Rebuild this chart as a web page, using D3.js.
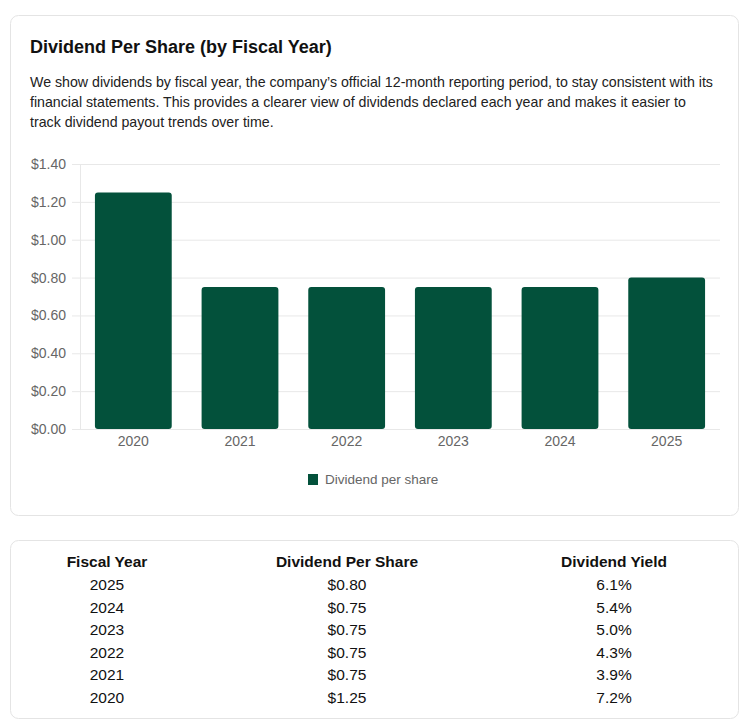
<!DOCTYPE html>
<meta charset="utf-8">
<style>
body { margin: 0; background: #fff; }
svg { display: block; font-family: "Liberation Sans", Arial, sans-serif; }
.card { fill: #fff; stroke: #e4e4e4; stroke-width: 1px; }
.title { font-size: 18px; font-weight: bold; fill: #111; }
.desc { font-size: 14.2px; fill: #222; }
.grid line { stroke: #e8e8e8; }
.grid .domain { display: none; }
.axis text { fill: #666; font-size: 14px; font-family: "Liberation Sans", Arial, sans-serif; }
.axis .domain { stroke: #e8e8e8; }
.axis line { stroke: #e8e8e8; }
.legend text { fill: #666; font-size: 13.5px; }
.th { font-size: 15.5px; font-weight: bold; fill: #111; text-anchor: middle; }
.td { font-size: 15.5px; fill: #111; text-anchor: middle; }
</style>
<svg width="750" height="728"></svg>
<script src="https://d3js.org/d3.v7.min.js"></script>
<script>

var years = ["2020", "2021", "2022", "2023", "2024", "2025"],
    dividends = [1.25, 0.75, 0.75, 0.75, 0.75, 0.80],
    yields = ["7.2%", "3.9%", "4.3%", "5.0%", "5.4%", "6.1%"],
    yTicks = [0, 0.2, 0.4, 0.6, 0.8, 1.0, 1.2, 1.4];

var title = "Dividend Per Share (by Fiscal Year)",
    descLines = [
      "We show dividends by fiscal year, the company\u2019s official 12-month reporting period, to stay consistent with its",
      "financial statements. This provides a clearer view of dividends declared each year and makes it easier to",
      "track dividend payout trends over time."
    ],
    tableHeads = ["Fiscal Year", "Dividend Per Share", "Dividend Yield"];

var svg = d3.select("svg"),
    color = "#03513b";

// cards
svg.append("rect").attr("class", "card")
    .attr("x", 10.5).attr("y", 15.5).attr("width", 728).attr("height", 500).attr("rx", 8);
svg.append("rect").attr("class", "card")
    .attr("x", 10.5).attr("y", 540.5).attr("width", 728).attr("height", 178).attr("rx", 8);

svg.append("text").attr("class", "title")
    .attr("x", 30).attr("y", 53).text(title);

svg.selectAll(".desc").data(descLines).enter().append("text")
    .attr("class", "desc")
    .attr("x", 30).attr("y", function(d, i) { return 87 + i * 20; })
    .text(function(d) { return d; });

// chart
var plotLeft = 80, plotRight = 720, plotTop = 164, plotBottom = 429;

var x = d3.scaleBand().domain(years).range([plotLeft, plotRight]).paddingInner(0.28).paddingOuter(0.14);
var y = d3.scaleLinear().domain([0, 1.4]).range([plotBottom, plotTop]);

svg.append("g").attr("class", "grid")
    .attr("transform", "translate(" + plotLeft + ",0)")
    .call(d3.axisLeft(y).tickValues(yTicks).tickSize(-(plotRight - plotLeft)).tickFormat(""));

svg.append("line")
    .attr("x1", plotLeft + 0.5).attr("x2", plotLeft + 0.5)
    .attr("y1", plotTop).attr("y2", plotBottom)
    .attr("stroke", "#e8e8e8");

svg.append("g").attr("class", "axis")
    .attr("transform", "translate(" + plotLeft + ",0)")
    .call(d3.axisLeft(y).tickValues(yTicks).tickSize(8).tickPadding(6)
      .tickFormat(function(d) { return "$" + d3.format(".2f")(d); }))
    .call(function(g) { g.select(".domain").remove(); });

svg.append("g").attr("class", "axis")
    .attr("transform", "translate(0," + plotBottom + ")")
    .call(d3.axisBottom(x).tickSize(0).tickPadding(7))
    .call(function(g) { g.select(".domain").remove(); });

svg.selectAll(".bar").data(years).enter().append("rect")
    .attr("class", "bar")
    .attr("x", function(d) { return x(d); })
    .attr("width", x.bandwidth())
    .attr("y", function(d, i) { return y(dividends[i]); })
    .attr("height", function(d, i) { return y(0) - y(dividends[i]); })
    .attr("rx", 3)
    .attr("fill", color);

// legend
var legend = svg.append("g").attr("class", "legend").attr("transform", "translate(308,474)");
legend.append("rect").attr("width", 10).attr("height", 11).attr("fill", color);
legend.append("text").attr("x", 17).attr("y", 10).text("Dividend per share");

// table
var colX = [107, 347, 614];
svg.selectAll(".th").data(tableHeads).enter().append("text")
    .attr("class", "th")
    .attr("x", function(d, i) { return colX[i]; })
    .attr("y", 567)
    .text(function(d) { return d; });

var rows = years.map(function(d, i) {
  return [d, "$" + d3.format(".2f")(dividends[i]), yields[i]];
}).reverse();

rows.forEach(function(r, j) {
  svg.selectAll(".row" + j).data(r).enter().append("text")
      .attr("class", "td")
      .attr("x", function(d, i) { return colX[i]; })
      .attr("y", 590 + j * 22.6)
      .text(function(d) { return d; });
});

</script>
